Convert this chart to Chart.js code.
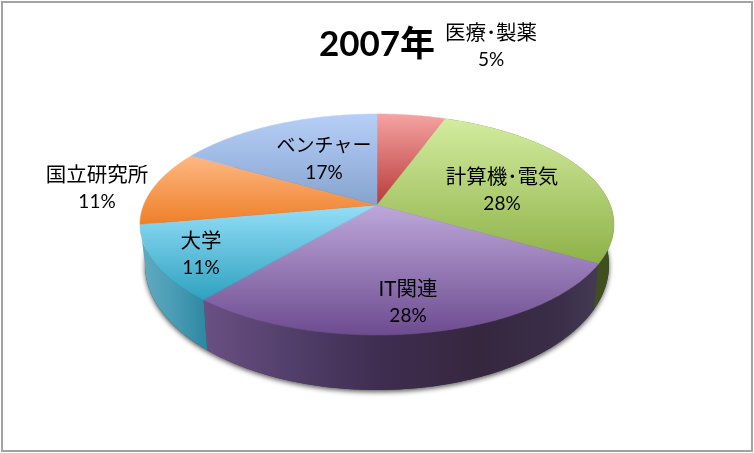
<!DOCTYPE html>
<html>
<head>
<meta charset="utf-8">
<title>2007年</title>
<script src="https://cdn.jsdelivr.net/npm/chart.js@4"></script>
<style>
  html, body { margin: 0; padding: 0; background: #fff; }
  canvas { display: block; }
</style>
</head>
<body>
<canvas id="pie" width="754" height="453"></canvas>
<script>
const categories = ["医療･製薬", "計算機･電気", "IT関連", "大学", "国立研究所", "ベンチャー"];
const shares = [5.56, 27.78, 27.78, 11.11, 11.11, 16.66];
const percentLabels = ["5%", "28%", "28%", "11%", "11%", "17%"];

// top face gradient, light to dark
const topLight = ["#f5a3a2", "#d3ec9f", "#bda8da", "#95def8", "#feb884", "#b6cff7"];
const topDark = ["#b83a39", "#8eb148", "#6d4b90", "#2ea2bf", "#ef7f28", "#86a3cf"];
const wallColor = [null, "#3f4f1e", "#3b2a4c", "#2d8aa3", null, null];

const fontFamily = 'Lato, "Noto Sans CJK JP", sans-serif';
const textColor = "#000";

// where the labels sit, centre of each text pair
const labelX = [491, 502, 408, 201, 97, 324];
const labelY = [33, 177, 289, 241, 175, 146];
const labelSize = [20.5, 20.5, 20.5, 20.5, 20.5, 19];

// ellipses of the top and bottom rim
const topRim = { cx: 377, cy: 224.5, rx: 237, ry: 110.5 };
const bottomRim = { cx: 377, cy: 265, rx: 232, ry: 125 };
const tilt = 0.176; // moves the apex back, as in a perspective view

function rimPoint(rim, angle, r) {
  // angle comes from the arc element, 0 is straight up after the shift
  const a = angle + Math.PI / 2;
  const u = Math.sin(a) * r;
  const v = Math.cos(a) * r;
  const d = 1 + tilt * v;
  const x = u * Math.sqrt(1 - tilt * tilt) / d;
  const y = (v + tilt) / d;
  return [rim.cx + x * rim.rx, rim.cy - y * rim.ry];
}

function arcPoints(rim, start, end) {
  const pts = [];
  const steps = Math.max(2, Math.ceil((end - start) / 0.01));
  for (let i = 0; i <= steps; i++) {
    pts.push(rimPoint(rim, start + (end - start) * i / steps, 1));
  }
  return pts;
}

function tracePath(ctx, pts) {
  ctx.beginPath();
  pts.forEach(function (p, i) {
    if (i === 0) ctx.moveTo(p[0], p[1]);
    else ctx.lineTo(p[0], p[1]);
  });
  ctx.closePath();
}

const pie3d = {
  id: "pie3d",
  beforeDatasetsDraw(chart) {
    const ctx = chart.ctx;
    const arcs = chart.getDatasetMeta(0).data;

    ctx.save();

    // shadow only along the bottom rim
    ctx.save();
    ctx.shadowColor = "rgba(0,0,0,0.65)";
    ctx.shadowBlur = 5;
    ctx.shadowOffsetY = 2;
    ctx.fillStyle = "#444";
    tracePath(ctx, arcPoints(bottomRim, 0, Math.PI * 2));
    ctx.fill();
    ctx.restore();

    // side walls
    arcs.forEach(function (arc, i) {
      if (!wallColor[i]) return;
      let fill = wallColor[i];
      if (i === 2) {
        const g = ctx.createLinearGradient(204, 0, 598, 0);
        g.addColorStop(0, "#6a5083");
        g.addColorStop(0.2, "#54406d");
        g.addColorStop(0.45, "#3f2d50");
        g.addColorStop(0.7, "#36273f");
        g.addColorStop(0.9, "#3a2e48");
        g.addColorStop(1, "#443a52");
        fill = g;
      } else if (i === 3) {
        const g = ctx.createLinearGradient(140, 0, 208, 0);
        g.addColorStop(0, "#62abc2");
        g.addColorStop(0.5, "#4a9cb5");
        g.addColorStop(1, "#2b87a0");
        fill = g;
      }
      ctx.fillStyle = fill;
      tracePath(ctx, arcPoints(topRim, arc.startAngle, arc.endAngle)
        .concat(arcPoints(bottomRim, arc.startAngle, arc.endAngle).reverse()));
      ctx.fill();
    });

    // top faces
    arcs.forEach(function (arc, i) {
      const rimPts = arcPoints(topRim, arc.startAngle, arc.endAngle);
      const apex = rimPoint(topRim, 0, 0);
      const pts = [apex].concat(rimPts);
      const ys = pts.map(function (p) { return p[1]; });
      const g = ctx.createLinearGradient(0, Math.min.apply(null, ys), 0, Math.max.apply(null, ys));
      g.addColorStop(0, topLight[i]);
      g.addColorStop(1, topDark[i]);
      ctx.fillStyle = g;
      ctx.strokeStyle = g;
      ctx.lineWidth = 0.5;
      tracePath(ctx, pts);
      ctx.fill();
      ctx.stroke();
    });

    ctx.restore();
    return false;
  },
  afterDraw(chart) {
    const ctx = chart.ctx;
    ctx.save();

    // outer frame
    ctx.strokeStyle = "#a3a3a3";
    ctx.lineWidth = 2;
    ctx.strokeRect(2, 2, 750, 449);

    // data labels
    ctx.fillStyle = textColor;
    ctx.textAlign = "center";
    ctx.textBaseline = "middle";
    categories.forEach(function (name, i) {
      ctx.font = labelSize[i] + "px " + fontFamily;
      ctx.fillText(name, labelX[i], labelY[i]);
      ctx.font = "19px " + fontFamily;
      ctx.fillText(percentLabels[i], labelX[i], labelY[i] + 26.5);
    });
    ctx.restore();
  }
};

new Chart(document.getElementById("pie"), {
  type: "pie",
  data: {
    labels: categories,
    datasets: [{ data: shares, backgroundColor: topDark, borderWidth: 0 }]
  },
  options: {
    responsive: false,
    animation: false,
    layout: { padding: 0 },
    plugins: {
      legend: { display: false },
      tooltip: { enabled: false },
      title: {
        display: true,
        text: "2007年",
        color: textColor,
        font: { family: fontFamily, size: 35, weight: "bold" },
        padding: { top: 24, bottom: 4 }
      }
    }
  },
  plugins: [pie3d]
});
</script>
</body>
</html>
